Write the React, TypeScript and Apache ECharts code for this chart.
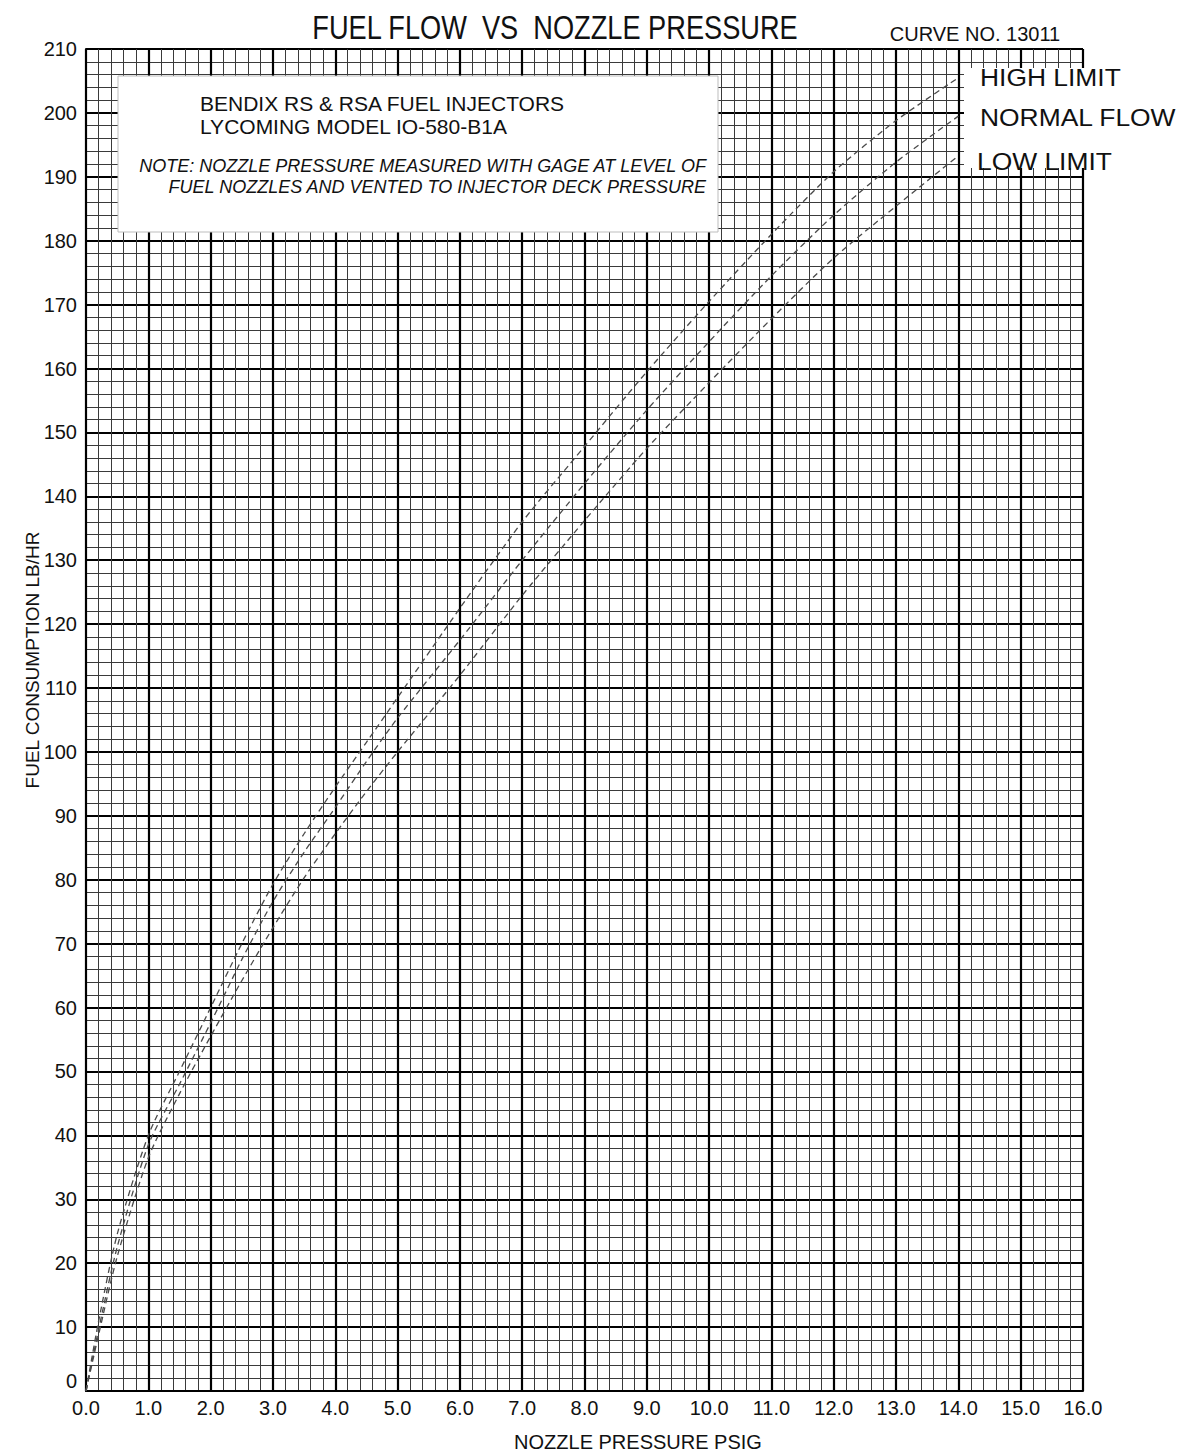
import React, { useEffect, useRef } from "react";
import * as echarts from "echarts";

// Nozzle pressure (PSIG) sample points
const pressure = [0, 0.2, 0.5, 1, 1.5, 2, 2.5, 3, 3.5, 4, 4.5, 5, 6, 7, 8, 9, 10, 11, 12, 13, 14];
// Fuel consumption (LB/HR)
const highLimit = [0, 10.8, 24.5, 40, 50, 60, 70, 79.3, 87.2, 94.5, 101.5, 108.5, 122.5, 136, 147.8, 159.5, 170.5, 181, 190.8, 198.8, 205.5];
const normalFlow = [0, 9.5, 22.5, 38.5, 48, 57.6, 67.5, 76.6, 84.3, 91.3, 98.5, 105.3, 117.5, 130, 142, 153.5, 164.2, 174.5, 184, 192.3, 199.5];
const lowLimit = [0, 8.7, 21, 36.5, 46.5, 55.5, 64.2, 72.5, 80.3, 87.2, 93.8, 100, 112, 124.5, 136.2, 147.5, 157.8, 167.8, 177.3, 185.4, 193.3];

const seriesNames = ["HIGH LIMIT", "NORMAL FLOW", "LOW LIMIT"];
const xMin = 0;
const xMax = 16;
const xInterval = 1;
const yMin = 0;
const yMax = 210;
const yInterval = 10;

const titleText = "FUEL FLOW  VS  NOZZLE PRESSURE";
const curveNo = "CURVE NO. 13011";
const boxLines = ["BENDIX RS & RSA FUEL INJECTORS", "LYCOMING MODEL IO-580-B1A"];
const noteLines = [
  "NOTE: NOZZLE PRESSURE MEASURED WITH GAGE AT LEVEL OF",
  "FUEL NOZZLES AND VENTED TO INJECTOR DECK PRESSURE",
];
const xTitle = "NOZZLE PRESSURE PSIG";
const yTitle = "FUEL CONSUMPTION LB/HR";

const FONT = "'Liberation Sans', Arial, Helvetica, sans-serif";

export default function App() {
  const ref = useRef<HTMLDivElement>(null);

  useEffect(() => {
    document.body.style.margin = "0";
    const chart = echarts.init(ref.current as HTMLDivElement, null, { renderer: "svg" });

    const mkSeries = (name: string, ys: number[]) => ({
      type: "line",
      name,
      data: pressure.map((p, i) => [p, ys[i]]),
      smooth: 0.25,
      symbol: "none",
      lineStyle: { color: "#4a4a4a", width: 1.3, type: [6, 4] },
      z: 5,
    });

    chart.setOption({
      animation: false,
      backgroundColor: "#ffffff",
      grid: { left: 86, right: 106, top: 49, bottom: 61, containLabel: false },
      xAxis: {
        type: "value",
        min: xMin,
        max: xMax,
        interval: xInterval,
        axisLine: { show: true, onZero: false, lineStyle: { color: "#000", width: 2 } },
        axisTick: { show: false },
        axisLabel: {
          formatter: (v: number) => v.toFixed(1),
          color: "#111",
          fontSize: 20,
          fontFamily: FONT,
          margin: 7,
        },
        splitLine: { show: true, lineStyle: { color: "#000", width: 2.2 } },
        minorTick: { show: false, splitNumber: 5 },
        minorSplitLine: { show: true, lineStyle: { color: "#3a3a3a", width: 1 } },
      },
      yAxis: {
        type: "value",
        min: yMin,
        max: yMax,
        interval: yInterval,
        axisLine: { show: true, onZero: false, lineStyle: { color: "#000", width: 2 } },
        axisTick: { show: false },
        axisLabel: {
          color: "#111",
          fontSize: 20,
          fontFamily: FONT,
          margin: 9,
          verticalAlignMinLabel: "bottom",
        },
        splitLine: { show: true, lineStyle: { color: "#000", width: 2.2 } },
        minorTick: { show: false, splitNumber: 5 },
        minorSplitLine: { show: true, lineStyle: { color: "#3a3a3a", width: 1 } },
      },
      series: [
        mkSeries(seriesNames[0], highLimit),
        mkSeries(seriesNames[1], normalFlow),
        mkSeries(seriesNames[2], lowLimit),
      ],
      graphic: [
        {
          type: "text",
          x: 555,
          y: 27,
          scaleX: 0.8,
          z: 100,
          style: {
            text: titleText,
            fontSize: 34,
            fontFamily: FONT,
            fill: "#111",
            textAlign: "center",
            textVerticalAlign: "middle",
          },
        },
        {
          type: "text",
          x: 975,
          y: 34,
          z: 100,
          style: {
            text: curveNo,
            fontSize: 20,
            fontFamily: FONT,
            fill: "#111",
            textAlign: "center",
            textVerticalAlign: "middle",
          },
        },
        {
          type: "rect",
          z: 90,
          shape: { x: 118, y: 76, width: 600, height: 156 },
          style: { fill: "#fff", stroke: "#bdbdbd", lineWidth: 1 },
        },
        {
          type: "text",
          x: 200,
          y: 103,
          z: 100,
          style: {
            text: boxLines[0],
            fontSize: 21,
            fontFamily: FONT,
            fill: "#111",
            textAlign: "left",
            textVerticalAlign: "middle",
          },
        },
        {
          type: "text",
          x: 200,
          y: 126,
          z: 100,
          style: {
            text: boxLines[1],
            fontSize: 21,
            fontFamily: FONT,
            fill: "#111",
            textAlign: "left",
            textVerticalAlign: "middle",
          },
        },
        {
          type: "text",
          x: 706,
          y: 166,
          z: 100,
          style: {
            text: noteLines[0],
            fontSize: 18,
            fontStyle: "italic",
            fontFamily: FONT,
            fill: "#111",
            textAlign: "right",
            textVerticalAlign: "middle",
          },
        },
        {
          type: "text",
          x: 706,
          y: 187,
          z: 100,
          style: {
            text: noteLines[1],
            fontSize: 18,
            fontStyle: "italic",
            fontFamily: FONT,
            fill: "#111",
            textAlign: "right",
            textVerticalAlign: "middle",
          },
        },
        {
          type: "rect",
          z: 90,
          shape: { x: 964, y: 68, width: 225, height: 100 },
          style: { fill: "#fff" },
        },
        {
          type: "text",
          x: 980,
          y: 77,
          scaleX: 1.1,
          z: 100,
          style: {
            text: seriesNames[0],
            fontSize: 24,
            fontFamily: FONT,
            fill: "#111",
            textAlign: "left",
            textVerticalAlign: "middle",
          },
        },
        {
          type: "text",
          x: 980,
          y: 117,
          scaleX: 1.1,
          z: 100,
          style: {
            text: seriesNames[1],
            fontSize: 24,
            fontFamily: FONT,
            fill: "#111",
            textAlign: "left",
            textVerticalAlign: "middle",
          },
        },
        {
          type: "text",
          x: 977,
          y: 161,
          scaleX: 1.1,
          z: 100,
          style: {
            text: seriesNames[2],
            fontSize: 24,
            fontFamily: FONT,
            fill: "#111",
            textAlign: "left",
            textVerticalAlign: "middle",
          },
        },
        {
          type: "text",
          x: 638,
          y: 1442,
          z: 100,
          style: {
            text: xTitle,
            fontSize: 20,
            fontFamily: FONT,
            fill: "#111",
            textAlign: "center",
            textVerticalAlign: "middle",
          },
        },
        {
          type: "text",
          x: 32,
          y: 660,
          rotation: Math.PI / 2,
          z: 100,
          style: {
            text: yTitle,
            fontSize: 19,
            fontFamily: FONT,
            fill: "#111",
            textAlign: "center",
            textVerticalAlign: "middle",
          },
        },
      ],
    });

    return () => {
      chart.dispose();
    };
  }, []);

  return <div ref={ref} style={{ width: 1189, height: 1452 }} />;
}
